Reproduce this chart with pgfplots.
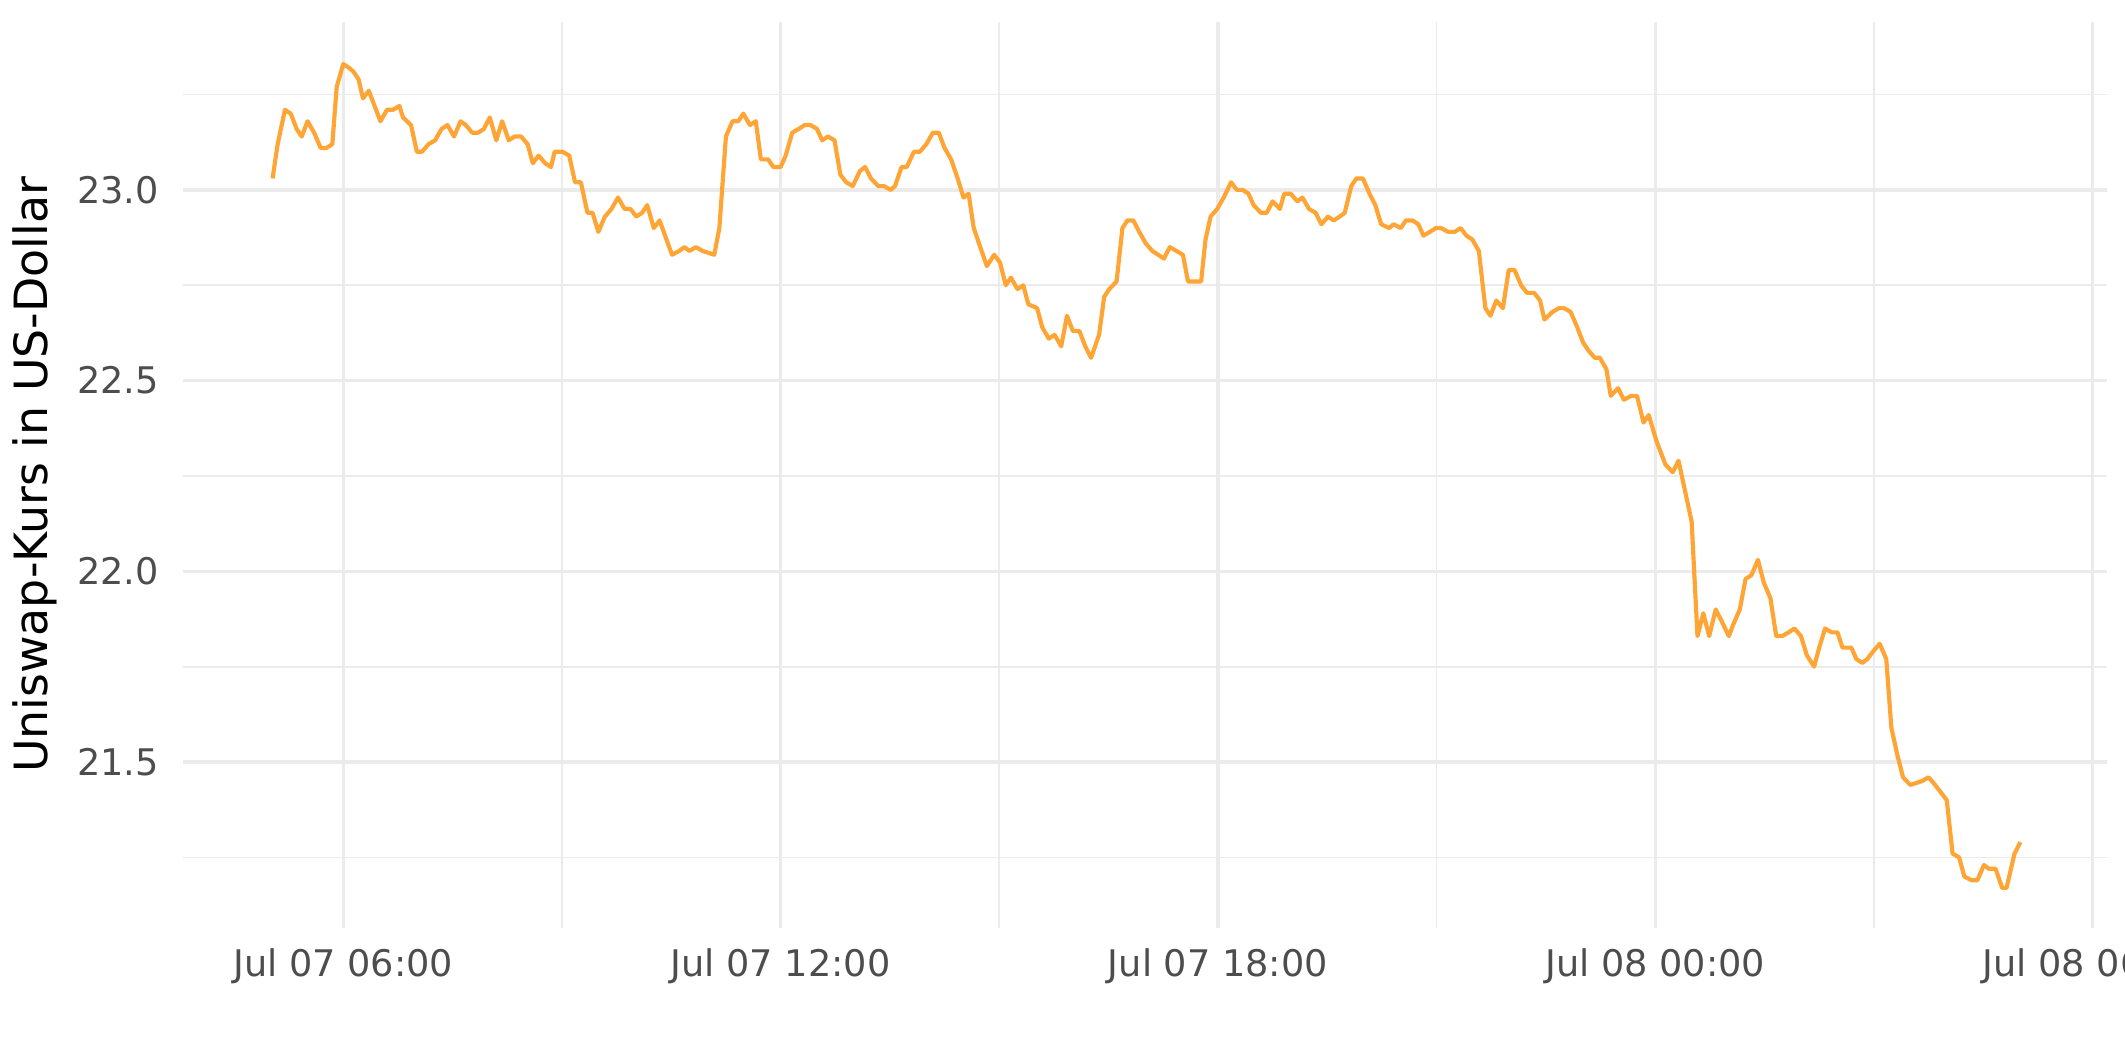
\documentclass[border=0pt]{standalone}
\usepackage{pgfplots}
\pgfplotsset{compat=1.18}
\usepackage{fontspec}
\setmainfont{DejaVu Sans}
\definecolor{gridgray}{HTML}{EBEBEB}
\definecolor{tickgray}{HTML}{4D4D4D}
\definecolor{lineorange}{HTML}{FFA535}
\begin{document}
\begin{tikzpicture}
\useasboundingbox (-43.9pt,-32.3pt) rectangle (466.1pt,222.7pt);
\begin{axis}[
  scale only axis,
  width=461.8pt, height=217.4pt,
  xmin=3.8, xmax=30.2,
  ymin=21.065, ymax=23.44,
  axis line style={draw=none},
  tick style={draw=none},
  major tick length=0pt, minor tick length=0pt,
  xtick={6,12,18,24,30},
  xticklabels={Jul 07 06:00, Jul 07 12:00, Jul 07 18:00, Jul 08 00:00, Jul 08 06:00},
  minor xtick={9,15,21,27},
  ytick={21.5,22.0,22.5,23.0},
  yticklabels={21.5,22.0,22.5,23.0},
  minor ytick={21.25,21.75,22.25,22.75,23.25},
  grid=both,
  major grid style={color=gridgray, line width=0.8pt},
  minor grid style={color=gridgray, line width=0.4pt},
  xticklabel style={font=\fontsize{8.8}{10}\selectfont, text=tickgray, inner sep=0pt, anchor=north, yshift=-4.7pt},
  yticklabel style={font=\fontsize{8.8}{10}\selectfont, text=tickgray, inner sep=0pt, anchor=east, xshift=-5.6pt},
  ylabel={Uniswap-Kurs in US-Dollar},
  every axis y label/.style={at={(axis description cs:-0.0704,0.5)}, rotate=90, anchor=base, font=\fontsize{11}{13}\selectfont, text=black, inner sep=0pt},
  /pgf/number format/assume math mode=true,
]
\addplot[color=lineorange, line width=1pt, line join=round] coordinates {
(5.03,23.03) (5.10,23.12) (5.20,23.21) (5.28,23.20) (5.36,23.16) (5.43,23.14) (5.51,23.18) (5.60,23.15)
(5.69,23.11) (5.77,23.11) (5.85,23.12) (5.91,23.27) (6.00,23.33) (6.08,23.32) (6.14,23.31) (6.21,23.29)
(6.27,23.24) (6.35,23.26) (6.43,23.22) (6.51,23.18) (6.60,23.21) (6.68,23.21) (6.77,23.22) (6.82,23.19)
(6.93,23.17) (7.01,23.10) (7.08,23.10) (7.17,23.12) (7.26,23.13) (7.35,23.16) (7.43,23.17) (7.52,23.14)
(7.61,23.18) (7.68,23.17) (7.77,23.15) (7.85,23.15) (7.93,23.16) (8.01,23.19) (8.10,23.13) (8.18,23.18)
(8.27,23.13) (8.35,23.14) (8.44,23.14) (8.53,23.12) (8.60,23.07) (8.68,23.09) (8.77,23.07) (8.85,23.06)
(8.90,23.10) (9.01,23.10) (9.10,23.09) (9.18,23.02) (9.26,23.02) (9.35,22.94) (9.42,22.94) (9.50,22.89)
(9.59,22.93) (9.68,22.95) (9.77,22.98) (9.86,22.95) (9.94,22.95) (10.02,22.93) (10.10,22.94) (10.17,22.96)
(10.26,22.90) (10.34,22.92) (10.51,22.83) (10.61,22.84) (10.68,22.85) (10.75,22.84) (10.84,22.85) (10.93,22.84)
(11.09,22.83) (11.16,22.90) (11.25,23.14) (11.34,23.18) (11.42,23.18) (11.49,23.20) (11.58,23.17)
(11.66,23.18) (11.73,23.08) (11.83,23.08) (11.90,23.06) (12.00,23.06) (12.07,23.09) (12.16,23.15) (12.25,23.16)
(12.33,23.17) (12.41,23.17) (12.50,23.16) (12.57,23.13) (12.65,23.14) (12.74,23.13) (12.82,23.04) (12.90,23.02)
(12.99,23.01) (13.09,23.05) (13.16,23.06) (13.24,23.03) (13.34,23.01) (13.42,23.01) (13.51,23.00) (13.57,23.01)
(13.66,23.06) (13.73,23.06) (13.83,23.10) (13.91,23.10) (14.00,23.12) (14.09,23.15) (14.17,23.15) (14.25,23.11)
(14.34,23.08) (14.43,23.03) (14.51,22.98) (14.58,22.99) (14.65,22.90) (14.74,22.85) (14.83,22.80) (14.93,22.83)
(15.01,22.81) (15.09,22.75) (15.16,22.77) (15.25,22.74) (15.33,22.75) (15.40,22.70) (15.52,22.69) (15.59,22.64)
(15.68,22.61) (15.76,22.62) (15.85,22.59) (15.93,22.67) (16.01,22.63) (16.10,22.63) (16.18,22.59) (16.26,22.56)
(16.37,22.62) (16.44,22.72) (16.51,22.74) (16.61,22.76) (16.69,22.90) (16.76,22.92) (16.84,22.92) (16.92,22.89)
(17.01,22.86) (17.10,22.84) (17.18,22.83) (17.26,22.82) (17.34,22.85) (17.43,22.84) (17.52,22.83) (17.59,22.76)
(17.68,22.76) (17.77,22.76)
(17.83,22.87) (17.90,22.93) (17.99,22.95) (18.08,22.98) (18.18,23.02) (18.26,23.00) (18.34,23.00) (18.42,22.99)
(18.49,22.96) (18.59,22.94) (18.67,22.94) (18.75,22.97) (18.85,22.95) (18.91,22.99) (19.00,22.99) (19.09,22.97)
(19.16,22.98) (19.25,22.95) (19.34,22.94) (19.42,22.91) (19.51,22.93) (19.59,22.92) (19.67,22.93) (19.74,22.94)
(19.83,23.01) (19.90,23.03) (19.99,23.03) (20.08,22.99) (20.16,22.96) (20.24,22.91) (20.35,22.90) (20.41,22.91)
(20.51,22.90) (20.58,22.92) (20.67,22.92) (20.75,22.91) (20.82,22.88) (20.91,22.89) (20.99,22.90) (21.06,22.90)
(21.16,22.89) (21.25,22.89) (21.33,22.90) (21.41,22.88) (21.49,22.87) (21.58,22.84) (21.67,22.69) (21.74,22.67)
(21.82,22.71) (21.91,22.69) (21.99,22.79) (22.07,22.79) (22.16,22.75) (22.24,22.73) (22.34,22.73) (22.42,22.71)
(22.48,22.66) (22.59,22.68) (22.68,22.69) (22.75,22.69) (22.84,22.68) (22.93,22.64) (23.01,22.60) (23.08,22.58)
(23.17,22.56) (23.24,22.56) (23.33,22.53) (23.39,22.46) (23.49,22.48) (23.57,22.45) (23.67,22.46) (23.75,22.46)
(23.84,22.39) (23.91,22.41) (24.02,22.34)
(24.14,22.28) (24.24,22.26) (24.32,22.29) (24.41,22.21) (24.50,22.13) (24.58,21.83) (24.66,21.89) (24.74,21.83)
(24.83,21.90) (24.91,21.87) (25.01,21.83) (25.07,21.86) (25.16,21.90) (25.24,21.98) (25.32,21.99) (25.41,22.03)
(25.49,21.97) (25.58,21.93) (25.66,21.83) (25.74,21.83) (25.83,21.84) (25.91,21.85) (26.00,21.83) (26.08,21.78)
(26.18,21.75) (26.25,21.80) (26.33,21.85) (26.42,21.84) (26.50,21.84) (26.57,21.80) (26.69,21.80) (26.76,21.77)
(26.84,21.76) (26.91,21.77) (26.99,21.79) (27.08,21.81) (27.17,21.77) (27.24,21.59) (27.32,21.52) (27.40,21.46)
(27.50,21.44) (27.66,21.45) (27.75,21.46) (27.84,21.44) (27.92,21.42) (28.00,21.40) (28.08,21.26) (28.17,21.25)
(28.24,21.20) (28.34,21.19) (28.42,21.19) (28.51,21.23) (28.58,21.22) (28.67,21.22) (28.76,21.17) (28.82,21.17)
(28.93,21.26) (29.01,21.29)
};
\end{axis}
\end{tikzpicture}
\end{document}
